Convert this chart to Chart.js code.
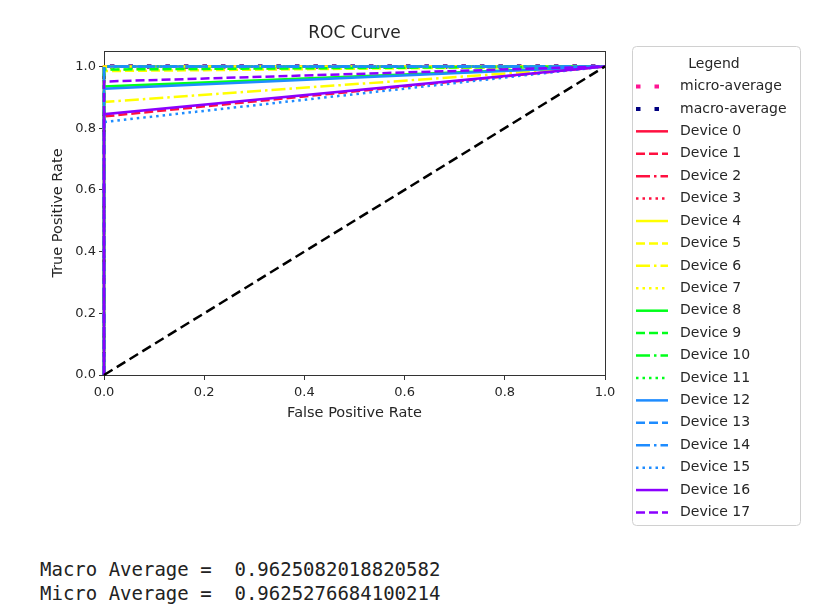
<!DOCTYPE html>
<html><head><meta charset="utf-8">
<script src="https://cdn.jsdelivr.net/npm/chart.js@4.4.0/dist/chart.umd.min.js"></script>
<style>
html,body{margin:0;padding:0;background:#fff;}
#wrap{position:relative;width:819px;height:616px;overflow:hidden;background:#fff;}
#c{position:absolute;left:0;top:0;}
.out{position:absolute;left:40px;font-family:"DejaVu Sans Mono",monospace;font-size:19px;line-height:24px;color:#222;white-space:pre;}
</style></head><body>
<div id="wrap"><canvas id="c" width="819" height="540" style="width:819px;height:540px"></canvas>
<div class="out" id="out" style="top:557px"></div></div>
<script>
// ---- data ----
const xTicks = [0, 0.2, 0.4, 0.6, 0.8, 1.0];
const yTicks = [0, 0.2, 0.4, 0.6, 0.8, 1.0];
const averageNames = ['micro-average', 'macro-average'];
const averageTPR = [1.0, 1.0];
const deviceNames = ['Device 0','Device 1','Device 2','Device 3','Device 4','Device 5','Device 6','Device 7','Device 8',
  'Device 9','Device 10','Device 11','Device 12','Device 13','Device 14','Device 15','Device 16','Device 17'];
const deviceTPR = [1.0, 0.838, 1.0, 1.0, 1.0, 0.985, 0.885, 0.99, 0.935, 0.99, 1.0, 1.0, 0.928, 1.0, 1.0, 0.82, 0.845, 0.951];
const diagonalX = [0, 1];
const diagonalY = [0, 1];
const macroText = 'Macro Average =  0.9625082018820582';
const microText = 'Micro Average =  0.9625276684100214';

// ---- styles ----
const averageColors = ['#ff1493', '#000080'];
const groupColors = ['#ff1040', '#ffff00', '#00ff1a', '#1e8cff', '#8b00ff'];
const dashStyles = [[], [9, 4], [14, 4, 2.5, 4], [2.5, 4]];
const averageDash = [4.5, 14];

document.getElementById('out').textContent = macroText + '\n' + microText;

function rocPoints(v) { return [{x: 0, y: 0}, {x: 0, y: v}, {x: 1, y: 1}]; }

const datasets = [];
const legendItems = [];
averageNames.forEach((n, i) => {
  const ds = {label: n, data: rocPoints(averageTPR[i]), borderColor: averageColors[i], borderWidth: 4,
    borderDash: averageDash, pointRadius: 0, order: 30 - i, fill: false, clip: false};
  datasets.push(ds);
  legendItems.push({label: n, color: averageColors[i], dash: averageDash, width: 4});
});
deviceNames.forEach((n, i) => {
  const color = groupColors[Math.floor(i / 4)];
  const dash = dashStyles[i % 4];
  const ds = {label: n, data: rocPoints(deviceTPR[i]), borderColor: color, borderWidth: 2.5,
    borderDash: dash, pointRadius: 0, order: 25 - i, fill: false, clip: false};
  datasets.push(ds);
  legendItems.push({label: n, color: color, dash: dash, width: 2.5});
});
datasets.push({label: 'diag', data: diagonalX.map((x, i) => ({x: x, y: diagonalY[i]})), borderColor: '#000',
  borderWidth: 2.5, borderDash: [10, 5], pointRadius: 0, order: 0, fill: false, clip: false});

const textColor = '#262626';
const framePlugin = {
  id: 'frame',
  beforeDatasetsDraw(chart) {
    const {ctx, chartArea: a} = chart;
    ctx.save();
    ctx.strokeStyle = '#333';
    ctx.lineWidth = 1;
    ctx.setLineDash([]);
    ctx.strokeRect(Math.round(a.left) + 0.5, Math.round(a.top) + 0.5, Math.round(a.right - a.left), Math.round(a.bottom - a.top));
    ctx.restore();
  },
  afterDraw(chart) {
    const {ctx, chartArea: a} = chart;
    ctx.save();
    // title
    ctx.fillStyle = textColor;
    ctx.font = '17px "DejaVu Sans"';
    ctx.textAlign = 'center';
    ctx.textBaseline = 'middle';
    ctx.fillText('ROC Curve', (a.left + a.right) / 2, 34);
    // legend box
    const L = 632.5, T = 46.5, R = 800.5, B = 525.5, r = 4;
    ctx.beginPath();
    ctx.moveTo(L + r, T); ctx.lineTo(R - r, T); ctx.arcTo(R, T, R, T + r, r);
    ctx.lineTo(R, B - r); ctx.arcTo(R, B, R - r, B, r);
    ctx.lineTo(L + r, B); ctx.arcTo(L, B, L, B - r, r);
    ctx.lineTo(L, T + r); ctx.arcTo(L, T, L + r, T, r);
    ctx.closePath();
    ctx.fillStyle = 'rgba(255,255,255,0.9)';
    ctx.fill();
    ctx.strokeStyle = '#d0d0d0';
    ctx.lineWidth = 1;
    ctx.stroke();
    ctx.fillStyle = textColor;
    ctx.font = '14px "DejaVu Sans"';
    ctx.fillText('Legend', 714, 64);
    ctx.textAlign = 'left';
    legendItems.forEach((it, k) => {
      const y = 86.5 + 22.42 * k;
      ctx.beginPath();
      ctx.strokeStyle = it.color;
      ctx.lineWidth = it.width;
      ctx.setLineDash(it.dash);
      ctx.moveTo(636, y); ctx.lineTo(668, y);
      ctx.stroke();
      ctx.setLineDash([]);
      ctx.fillStyle = textColor;
      ctx.fillText(it.label, 680, y);
    });
    ctx.restore();
  }
};

new Chart(document.getElementById('c'), {
  type: 'line',
  data: {datasets: datasets},
  plugins: [framePlugin],
  options: {
    responsive: false,
    animation: false,
    devicePixelRatio: 1,
    layout: {padding: {left: 0, top: 51, right: 214, bottom: 118}},
    plugins: {legend: {display: false}, title: {display: false}, tooltip: {enabled: false}},
    elements: {line: {tension: 0}},
    scales: {
      x: {
        type: 'linear', min: 0, max: 1,
        afterBuildTicks: s => { s.ticks = xTicks.map(v => ({value: v})); },
        afterFit: s => { s.height = 47; },
        ticks: {color: textColor, font: {family: 'DejaVu Sans', size: 13}, padding: 5, maxRotation: 0,
          callback: v => Number(v).toFixed(1)},
        grid: {drawOnChartArea: false, drawTicks: true, tickLength: 5, color: '#333'},
        border: {display: true, color: '#333'},
        title: {display: true, text: 'False Positive Rate', color: textColor,
          font: {family: 'DejaVu Sans', size: 14.5}, padding: {top: 0, bottom: 0}}
      },
      y: {
        type: 'linear', min: 0, max: 1.05,
        afterBuildTicks: s => { s.ticks = yTicks.map(v => ({value: v})); },
        afterFit: s => { s.width = 104; },
        ticks: {color: textColor, font: {family: 'DejaVu Sans', size: 13}, padding: 3,
          callback: v => Number(v).toFixed(1)},
        grid: {drawOnChartArea: false, drawTicks: true, tickLength: 5, color: '#333'},
        border: {display: true, color: '#333'},
        title: {display: true, text: 'True Positive Rate', color: textColor,
          font: {family: 'DejaVu Sans', size: 14.5}, padding: {top: 50, bottom: 0}}
      }
    }
  }
});
</script>
</body></html>
